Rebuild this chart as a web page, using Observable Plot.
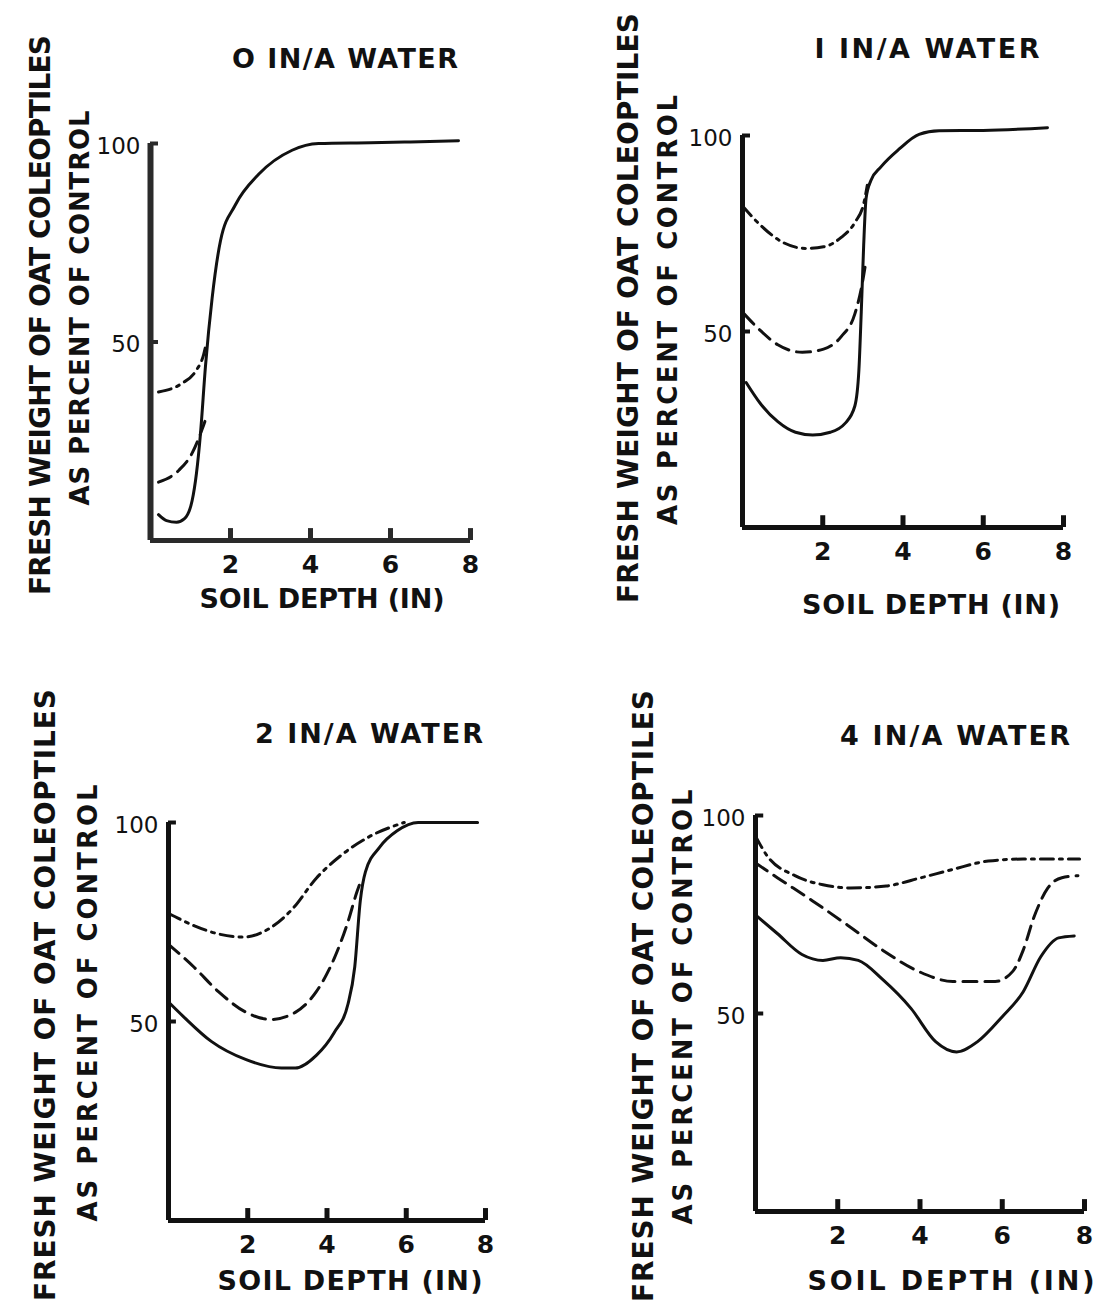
<!DOCTYPE html>
<html><head><meta charset="utf-8">
<script src="https://cdn.jsdelivr.net/npm/d3@7"></script>
<script src="https://cdn.jsdelivr.net/npm/@observablehq/plot@0.6"></script>
<style>
body{margin:0;background:#fff;}
#root{position:relative;width:1098px;height:1302px;overflow:hidden;background:#fff;}
.panel{position:absolute;}
#overlay{position:absolute;left:0;top:0;pointer-events:none;}
</style></head><body><div id="root"></div>
<script>
// ---- tick values and texts ----
const xTicks = [2, 4, 6, 8];
const yTicks = [50, 100];
const titles = ["O  IN/A WATER", "I  IN/A  WATER", "2 IN/A WATER", "4 IN/A  WATER"];
const yLabel1 = "FRESH WEIGHT OF OAT COLEOPTILES";
const yLabel2 = "AS PERCENT OF CONTROL";
const xLabels = ["SOIL DEPTH (IN)", "SOIL DEPTH  (IN)", "SOIL DEPTH  (IN)", "SOIL DEPTH  (IN)"];

// ---- data: [soil depth (in), fresh weight % of control] ----
// 0 in/A water
const w0Solid = [[0.2,6.5],[0.4,5],[0.65,4.6],[0.85,5.5],[1.04,10],[1.15,17],[1.25,27],[1.375,44],[1.54,61],[1.75,75.5],[2.12,84.5],[2.71,92.3],[3.54,98.3],[4.2,100],[5.5,100.2],[6.5,100.4],[7.7,100.7]];
const w0Dash  = [[0.2,14.7],[0.71,17.7],[1.04,22],[1.29,28],[1.36,30]];
const w0DashDot = [[0.2,37.4],[0.79,39.6],[1.125,42.6],[1.33,46.9],[1.38,49]];
// 1 in/A water
const w1Solid = [[0.09,37],[0.44,31.7],[0.88,27],[1.32,24.3],[1.75,23.6],[2.19,24.3],[2.55,26.5],[2.8,31],[2.9,40],[2.96,55],[3.02,72],[3.08,84],[3.2,88.5],[3.45,92],[3.9,96.5],[4.4,100.3],[4.9,101.2],[6,101.3],[7.6,102]];
const w1Dash  = [[0.04,54.5],[0.44,50.3],[0.88,46.6],[1.49,44.7],[2.02,45.5],[2.46,48.7],[2.8,54.5],[2.98,62],[3.07,67.5]];
const w1DashDot = [[0,82],[0.44,77.2],[0.96,73],[1.58,71.2],[2.02,71.6],[2.46,74],[2.8,77.8],[3.03,83],[3.11,87.3]];
// 2 in/A water
const w2Solid = [[0,54.9],[0.37,51.3],[1.08,45],[1.96,40.4],[2.85,38.3],[3.2,38.3],[3.73,41.5],[4.18,47.2],[4.53,54.4],[4.7,63.7],[4.84,80.3],[4.97,87.6],[5.33,93.8],[5.77,97.9],[6.3,100],[7.8,100]];
const w2Dash  = [[0,69.4],[0.64,63.7],[1.26,57.5],[1.96,52.3],[2.58,50.5],[3.2,52.3],[3.73,57.5],[4.18,65.8],[4.53,75.1],[4.75,82.4],[4.88,86]];
const w2DashDot = [[0,77.2],[0.64,74.1],[1.26,72],[1.88,71.2],[2.5,73.1],[3.12,78.2],[3.73,86],[4.35,91.7],[5.06,96.4],[5.95,100]];
// 4 in/A water
const w4Solid = [[0,74.9],[0.53,70.2],[1.13,64.9],[1.64,63.4],[2.07,64.1],[2.5,63.4],[3.09,58.6],[3.78,51.3],[4.38,42.9],[4.89,40.3],[5.4,42.9],[6.0,49.2],[6.51,55.5],[6.94,64.4],[7.37,69.1],[7.75,69.6]];
const w4Dash  = [[0,88],[0.53,84.3],[1.38,78.5],[2.24,72.3],[3.09,66],[3.95,60.7],[4.8,58.1],[5.83,58.1],[6.26,60.7],[6.51,66],[6.77,74.3],[7.11,81.7],[7.45,84.3],[7.84,84.8]];
const w4DashDot = [[0,94.8],[0.27,90],[0.96,84.8],[1.64,82.5],[2.32,81.7],[3.18,82.2],[4.03,84.3],[4.8,86.4],[5.66,88.5],[6.51,89],[7.88,89]];

const seriesByPanel = [
  [w0Solid, w0Dash, w0DashDot],
  [w1Solid, w1Dash, w1DashDot],
  [w2Solid, w2Dash, w2DashDot],
  [w4Solid, w4Dash, w4DashDot]
];

// ---- layout (pixels) ----
const dashes = [null, "14,8", "13,6,3,6"];
const panels = [
  {left:0,   top:0,   mL:150, mR:79, mT:143, mB:111, axisW:6, axisColor:"#2a2a2a"},
  {left:549, top:0,   mL:193, mR:35, mT:135, mB:124, axisW:5, axisColor:"#111"},
  {left:0,   top:651, mL:168, mR:64, mT:171, mB:82,  axisW:5, axisColor:"#111"},
  {left:549, top:651, mL:206, mR:14, mT:164, mB:91,  axisW:5, axisColor:"#111"}
];
const textLayout = [
  {title:[345,58,226],  y1:[40,315,560],  y2:[80,308,395],  xl:[322,598,245]},
  {title:[927,48,225],  y1:[628,308,590], y2:[668,310,430], xl:[931,604,258]},
  {title:[369,733,228], y1:[45,995,612],  y2:[88,1003,437], xl:[350,1280,265]},
  {title:[955,735,230], y1:[643,996,612], y2:[683,1007,435], xl:[951,1280,287]}
];

const root = document.getElementById("root");
const FONT = "DejaVu Sans";

panels.forEach((p, i) => {
  const lines = seriesByPanel[i].map((data, k) => Plot.line(data, {
    x: d => d[0], y: d => d[1], curve: "monotone-x",
    stroke: "#111", strokeWidth: 3, strokeDasharray: dashes[k] || undefined,
    strokeLinecap: "round", strokeLinejoin: "round"
  }));
  const chart = Plot.plot({
    width: 549, height: 651,
    marginLeft: p.mL, marginRight: p.mR, marginTop: p.mT, marginBottom: p.mB,
    x: {domain: [0, 8]},
    y: {domain: [0, 100]},
    style: {fontFamily: FONT, background: "transparent", color: "#111", overflow: "visible"},
    marks: [
      Plot.axisX(xTicks, {tickSize: 0, tickPadding: 15, fontSize: 25, fontWeight: "bold", label: null}),
      Plot.axisY(yTicks, {tickSize: 0, tickPadding: 10, fontSize: 23, dy: 3, label: null}),
      Plot.ruleX(xTicks, {y1: 0, y2: 3, stroke: p.axisColor, strokeWidth: 5}),
      Plot.ruleY(yTicks, {x1: 0, x2: 0.2, stroke: p.axisColor, strokeWidth: 4}),
      Plot.ruleX([0], {stroke: p.axisColor, strokeWidth: p.axisW}),
      Plot.ruleY([0], {stroke: p.axisColor, strokeWidth: 5}),
      ...lines
    ]
  });
  chart.classList.add("panel");
  chart.style.left = p.left + "px";
  chart.style.top = p.top + "px";
  root.appendChild(chart);
});

// ---- overlay titles and axis labels ----
const svg = d3.select(root).append("svg").attr("id", "overlay")
  .attr("width", 1098).attr("height", 1302)
  .style("font-family", FONT).style("font-weight", "bold").attr("fill", "#111");
textLayout.forEach((t, i) => {
  const add = (txt, [cx, cy, len], size, rot) => {
    svg.append("text")
      .attr("transform", `translate(${cx},${cy})` + (rot ? " rotate(-90)" : ""))
      .attr("text-anchor", "middle").attr("dominant-baseline", "central")
      .attr("font-size", size)
      .attr("textLength", len).attr("lengthAdjust", "spacing")
      .text(txt);
  };
  add(titles[i], t.title, 27, false);
  add(yLabel1, t.y1, 28, true);
  add(yLabel2, t.y2, 26, true);
  add(xLabels[i], t.xl, 27, false);
});
</script>
</body></html>
